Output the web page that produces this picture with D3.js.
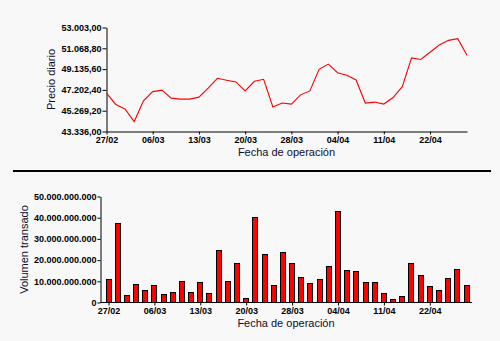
<!DOCTYPE html>
<html><head><meta charset="utf-8">
<script src="https://cdn.jsdelivr.net/npm/d3@7"></script>
<style>
html,body{margin:0;padding:0;background:#f8f8f8;}
svg{display:block;}
.tick text{font-family:"Liberation Sans",Arial,sans-serif;font-size:9px;font-weight:bold;fill:#000;}
.title{font-family:"Liberation Sans",Arial,sans-serif;font-size:11px;fill:#0d0d2b;}
</style></head>
<body>
<script>
const dates = ["27/02","28/02","03/03","04/03","05/03","06/03","07/03","10/03","11/03","12/03",
"13/03","14/03","17/03","18/03","19/03","20/03","21/03","25/03","26/03","27/03",
"28/03","31/03","01/04","02/04","03/04","04/04","07/04","08/04","09/04","10/04",
"11/04","14/04","15/04","16/04","21/04","22/04","23/04","24/04","25/04","28/04"];
const precio = [46899,45850,45426,44257,46190,47046,47175,46439,46347,46347,
46531,47359,48280,48096,47940,47111,48004,48188,45610,45978,
45886,46743,47111,49109,49597,48796,48556,48124,45978,46070,
45886,46494,47507,50177,50029,50702,51374,51806,51963,50425];
const volumen = [11.25e9,37.4e9,3.65e9,8.9e9,5.7e9,8.4e9,4.1e9,5.1e9,10.3e9,5.1e9,
9.8e9,4.6e9,25.0e9,10.3e9,18.4e9,2.2e9,40.2e9,23.1e9,8.4e9,23.6e9,
18.85e9,12.2e9,9.35e9,11.25e9,17.4e9,43.1e9,15.5e9,15.05e9,9.8e9,9.8e9,
4.6e9,1.75e9,3.2e9,18.4e9,13.15e9,7.9e9,6.0e9,11.7e9,16.0e9,8.4e9];
const precioTicks = [43336,45269.2,47202.4,49135.6,51068.8,53003];
const precioTickLabels = ["43.336,00","45.269,20","47.202,40","49.135,60","51.068,80","53.003,00"];
const volTicks = [0,10e9,20e9,30e9,40e9,50e9];
const volTickLabels = ["0","10.000.000.000","20.000.000.000","30.000.000.000","40.000.000.000","50.000.000.000"];
const xTickDates = ["27/02","06/03","13/03","20/03","28/03","04/04","11/04","22/04"];

const svg = d3.select("body").append("svg").attr("width",500).attr("height",341);
svg.append("rect").attr("width",500).attr("height",341).attr("fill","#f8f8f8");

// ---- top chart ----
const x1 = d3.scalePoint().domain(dates).range([106.5,467]);
const y1 = d3.scaleLinear().domain([43336,53003]).range([131.5,27.5]);
const gTop = svg.append("g");
gTop.append("g").attr("transform","translate(106.5,0)")
  .call(d3.axisLeft(y1).tickValues(precioTicks).tickSize(4).tickSizeOuter(0)
    .tickFormat((d,i)=>precioTickLabels[i]))
  .call(g=>g.select(".domain").attr("stroke","#000"))
  .call(g=>g.selectAll(".tick text").attr("x",-5));
gTop.append("g").attr("transform","translate(0,131.5)")
  .call(d3.axisBottom(x1).tickValues(xTickDates).tickSize(3).tickSizeOuter(0))
  .call(g=>g.selectAll(".tick text").attr("y",5));
gTop.append("path").datum(precio)
  .attr("fill","none").attr("stroke","#ff0000").attr("stroke-width",1.1)
  .attr("d", d3.line().x((d,i)=>x1(dates[i])).y(d=>y1(d)));
gTop.append("text").attr("class","title").attr("text-anchor","middle")
  .attr("transform","translate(55,79.5) rotate(-90)").text("Precio diario");
gTop.append("text").attr("class","title").attr("text-anchor","middle")
  .attr("x",286.5).attr("y",156).text("Fecha de operación");

// separator
svg.append("rect").attr("x",13).attr("y",170).attr("width",478).attr("height",2).attr("fill","#000");

// ---- bottom chart ----
const x2 = d3.scalePoint().domain(dates).range([108.5,466.5]);
const y2 = d3.scaleLinear().domain([0,50e9]).range([302.5,196.5]);
const gBot = svg.append("g");
gBot.selectAll("rect.bar").data(volumen).join("rect").attr("class","bar")
  .attr("x",(d,i)=>Math.round(x2(dates[i]))-2.5)
  .attr("y",d=>Math.round(y2(d))+0.5)
  .attr("width",5)
  .attr("height",d=>302.5-(Math.round(y2(d))+0.5))
  .attr("fill","#ff0000").attr("stroke","#000").attr("stroke-width",1);
gBot.append("g").attr("transform","translate(100.5,0)")
  .call(d3.axisLeft(y2).tickValues(volTicks).tickSize(3).tickSizeOuter(0)
    .tickFormat((d,i)=>volTickLabels[i]))
  .call(g=>g.selectAll(".tick text").attr("x",-4));
gBot.append("g").attr("transform","translate(0,302.5)")
  .call(d3.axisBottom(x2).tickValues(xTickDates).tickSize(3).tickSizeOuter(0))
  .call(g=>g.select(".domain").remove())
  .call(g=>g.selectAll(".tick text").attr("y",5));
gBot.append("line").attr("x1",100.5).attr("x2",472).attr("y1",302.5).attr("y2",302.5).attr("stroke","#000");
gBot.append("text").attr("class","title").attr("text-anchor","middle")
  .attr("transform","translate(28,249.5) rotate(-90)").text("Volumen transado");
gBot.append("text").attr("class","title").attr("text-anchor","middle")
  .attr("x",286).attr("y",327).text("Fecha de operación");
</script>
</body></html>
